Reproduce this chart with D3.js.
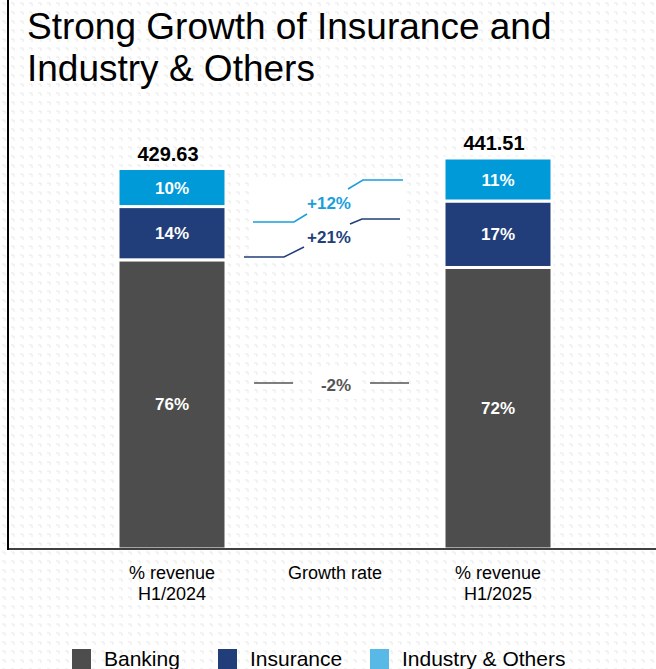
<!DOCTYPE html>
<html>
<head>
<meta charset="utf-8">
<script src="https://cdn.jsdelivr.net/npm/d3@7/dist/d3.min.js"></script>
<style>
  body { margin: 0; background: #fff; }
  svg text { font-family: "Liberation Sans", Arial, sans-serif; }
</style>
</head>
<body>
<svg id="chart" width="656" height="669"></svg>
<script>
// data
const periods = ["H1/2024", "H1/2025"];
const totals = [429.63, 441.51];
const banking = [76, 72];
const insurance = [14, 17];
const industry = [10, 11];
const segments = ["Banking", "Insurance", "Industry & Others"];
const growthLabels = ["+12%", "+21%", "-2%"];
const columns = ["H1/2024", "Growth rate", "H1/2025"];

const colors = { "Banking": "#4d4d4d", "Insurance": "#213e7b", "Industry & Others": "#009ad9" };
const legendColors = { "Banking": "#4d4d4d", "Insurance": "#213e7b", "Industry & Others": "#58b9e6" };

const svg = d3.select("svg#chart");
const W = 656, baseY = 549;

// background dotted pattern
const defs = svg.append("defs");
const pat = defs.append("pattern")
    .attr("id", "dots").attr("width", 9).attr("height", 9)
    .attr("patternUnits", "userSpaceOnUse");
pat.append("path").attr("d", "M2,3 H5 V6").attr("fill", "none")
    .attr("stroke", "#e8e8e8").attr("stroke-width", 1);
svg.append("rect").attr("width", W).attr("height", 669).attr("fill", "url(#dots)");

// title
const title = svg.append("text").attr("x", 27).attr("y", 39)
    .attr("font-size", 37).attr("fill", "#000");
title.append("tspan").attr("x", 27).text("Strong Growth of Insurance and");
title.append("tspan").attr("x", 27).attr("dy", 42).text("Industry & Others");

// scales
const x = d3.scalePoint().domain(columns).range([172, 498]);
const y = d3.scaleLinear().domain([0, 500]).range([baseY, baseY - 500 * 0.8856]);
const barW = 108;

// stacked data
const rows = periods.map(function(p, i) {
  return { period: p, total: totals[i], "Banking": banking[i], "Insurance": insurance[i], "Industry & Others": industry[i] };
});
const stack = d3.stack().keys(segments)
    .value(function(d, key) { return d.total * d[key] / 100; });
const series = stack(rows);

const g = svg.append("g");
series.forEach(function(s) {
  g.selectAll(null).data(s).enter().append("rect")
      .attr("x", function(d) { return x(d.data.period) - barW / 2; })
      .attr("width", barW)
      .attr("y", function(d) { return y(d[1]); })
      .attr("height", function(d) { return y(d[0]) - y(d[1]); })
      .attr("fill", colors[s.key])
      .attr("stroke", "#fff").attr("stroke-width", 3);

  g.selectAll(null).data(s).enter().append("text")
      .attr("x", function(d) { return x(d.data.period); })
      .attr("y", function(d) { return (y(d[0]) + y(d[1])) / 2 + 6; })
      .attr("text-anchor", "middle")
      .attr("font-size", 17).attr("font-weight", "bold").attr("fill", "#fff")
      .text(function(d) { return d.data[s.key] + "%"; });
});

// totals
g.selectAll(null).data(rows).enter().append("text")
    .attr("x", function(d) { return x(d.period) - 4; })
    .attr("y", function(d) { return y(d.total) - 8; })
    .attr("text-anchor", "middle")
    .attr("font-size", 20).attr("font-weight", "bold").attr("fill", "#000")
    .text(function(d) { return d3.format(".2f")(d.total); });

// axes lines
svg.append("line").attr("x1", 8).attr("x2", W).attr("y1", baseY).attr("y2", baseY)
    .attr("stroke", "#404040").attr("stroke-width", 2);
svg.append("line").attr("x1", 8).attr("x2", 8).attr("y1", 0).attr("y2", baseY + 1)
    .attr("stroke", "#000").attr("stroke-width", 2);

// category labels
const catLines = { "H1/2024": ["% revenue", "H1/2024"], "Growth rate": ["Growth rate"], "H1/2025": ["% revenue", "H1/2025"] };
columns.forEach(function(c) {
  const t = svg.append("text").attr("x", x(c)).attr("y", 579)
      .attr("text-anchor", "middle").attr("font-size", 18).attr("fill", "#000");
  catLines[c].forEach(function(l, i) {
    t.append("tspan").attr("x", x(c)).attr("dy", i ? 21 : 0).text(l);
  });
});

// growth annotations
const gx = x("Growth rate");
svg.append("rect").attr("x", gx - 81).attr("y", 180).attr("width", 150).attr("height", 82).attr("fill", "#fff");
svg.append("rect").attr("x", gx - 18).attr("y", 371).attr("width", 44).attr("height", 28).attr("fill", "#fff");

const connectors = [
  { color: "#1a9fdb", label: growthLabels[0], ly: 209, pts: [[-82, 222], [-41, 222], [-28, 214]], pts2: [[13, 189], [28, 180], [68, 180]] },
  { color: "#213e7b", label: growthLabels[1], ly: 243, pts: [[-91, 257], [-51, 257], [-31, 247]], pts2: [[15, 224], [27, 219], [65, 219]] }
];
const line = d3.line();
connectors.forEach(function(c) {
  [c.pts, c.pts2].forEach(function(p) {
    svg.append("path")
        .attr("d", line(p.map(function(q) { return [gx + q[0], q[1]]; })))
        .attr("fill", "none").attr("stroke", c.color).attr("stroke-width", 1.5);
  });
  svg.append("text").attr("x", gx - 6).attr("y", c.ly)
      .attr("text-anchor", "middle").attr("font-size", 17).attr("font-weight", "bold")
      .attr("fill", c.color).text(c.label);
});

// banking growth
svg.append("line").attr("x1", gx - 81).attr("x2", gx - 42).attr("y1", 383).attr("y2", 383)
    .attr("stroke", "#555").attr("stroke-width", 1.5);
svg.append("line").attr("x1", gx + 35).attr("x2", gx + 74).attr("y1", 383).attr("y2", 383)
    .attr("stroke", "#555").attr("stroke-width", 1.5);
svg.append("text").attr("x", gx + 1).attr("y", 391)
    .attr("text-anchor", "middle").attr("font-size", 17).attr("font-weight", "bold")
    .attr("fill", "#555").text(growthLabels[2]);

// legend
const legendX = [72, 218, 370];
segments.forEach(function(s, i) {
  svg.append("rect").attr("x", legendX[i]).attr("y", 649).attr("width", 19).attr("height", 20)
      .attr("fill", legendColors[s]);
  svg.append("text").attr("x", legendX[i] + 32).attr("y", 666)
      .attr("font-size", 21).attr("fill", "#000").text(s);
});
</script>
</body>
</html>
